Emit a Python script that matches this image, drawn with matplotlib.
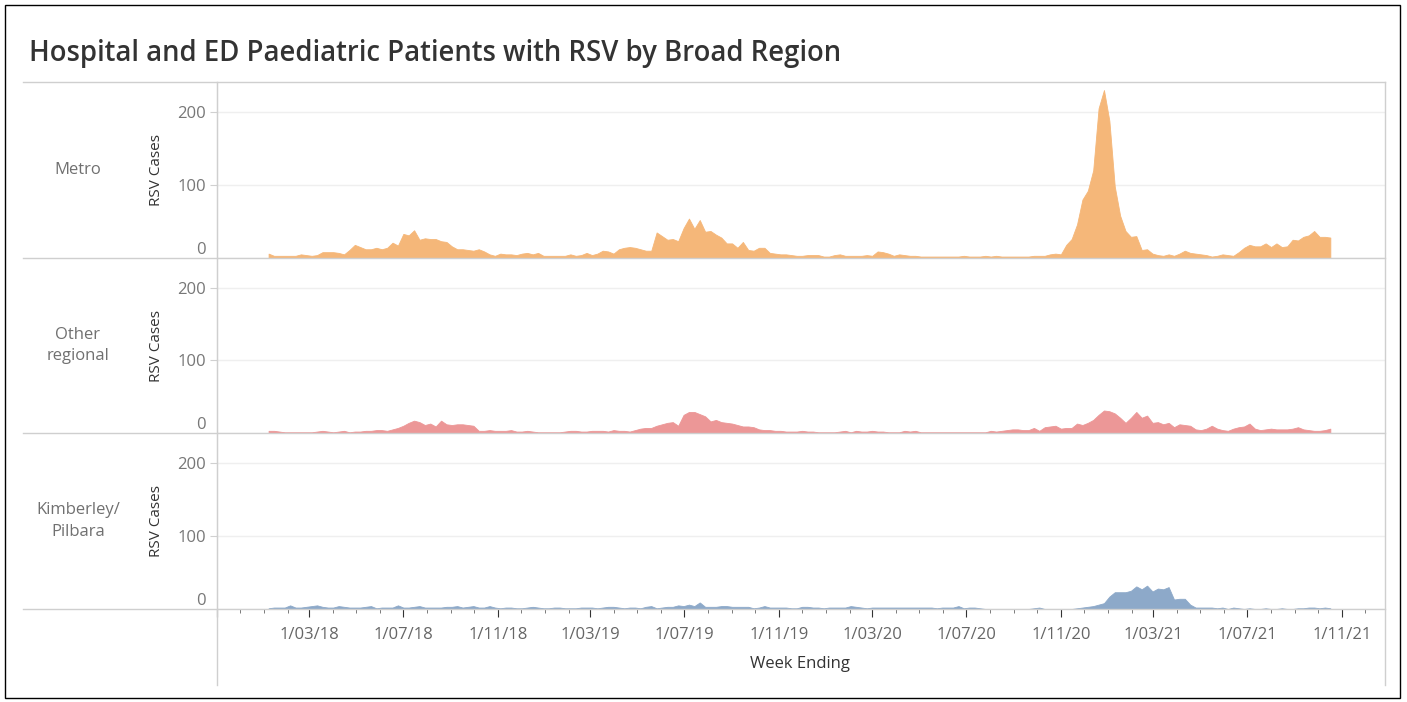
import numpy as np
import pandas as pd
import matplotlib
matplotlib.use("Agg")
import matplotlib.pyplot as plt
import matplotlib.dates as mdates
from matplotlib.lines import Line2D
from matplotlib.patches import Rectangle
from matplotlib.ticker import FuncFormatter

plt.rcParams['font.family'] = ['Open Sans', 'DejaVu Sans']

# weekly RSV cases, week ending Sunday
weeks = pd.date_range('2018-01-07', periods=198, freq='7D')
regions = ['Metro', 'Other\nregional', 'Kimberley/\nPilbara']

metro = [6, 3, 3, 3, 3, 3, 5, 4, 3, 4, 8, 8, 8, 7, 5, 11, 18, 15, 12, 12,
         14, 12, 14, 21, 17, 33, 31, 38, 25, 27, 26, 26, 23, 22, 16, 12, 12, 11, 10, 12,
         9, 5, 3, 6, 5, 5, 4, 6, 7, 5, 7, 3, 3, 3, 3, 3, 5, 3, 4, 7,
         4, 6, 10, 9, 6, 12, 14, 15, 14, 12, 10, 10, 35, 30, 25, 26, 23, 41, 54, 40,
         52, 36, 37, 32, 28, 20, 20, 14, 22, 11, 10, 14, 14, 7, 6, 5, 5, 4, 3, 3,
         4, 4, 4, 2, 2, 4, 5, 3, 3, 3, 3, 4, 3, 9, 8, 6, 3, 5, 4, 3,
         3, 2, 2, 2, 2, 2, 2, 2, 2, 3, 2, 2, 2, 3, 2, 3, 2, 2, 2, 2,
         2, 2, 3, 3, 3, 5, 6, 5, 18, 26, 46, 80, 92, 120, 205, 230, 188, 98, 58, 37,
         29, 30, 11, 12, 6, 4, 3, 5, 3, 6, 10, 7, 6, 5, 4, 2, 3, 5, 4, 3,
         8, 14, 18, 16, 16, 20, 15, 20, 15, 16, 25, 24, 29, 31, 37, 29, 29, 28]

other = [3, 3, 2, 1, 1, 1, 1, 1, 1, 2, 3, 2, 1, 2, 3, 1, 2, 2, 3, 3,
         4, 4, 3, 5, 7, 10, 14, 17, 15, 11, 13, 9, 17, 12, 11, 12, 12, 11, 10, 3,
         3, 4, 3, 3, 3, 4, 2, 2, 3, 2, 1, 1, 1, 1, 1, 2, 3, 3, 2, 2,
         3, 3, 3, 2, 4, 3, 3, 2, 4, 6, 7, 7, 10, 12, 14, 15, 10, 25, 29, 29,
         26, 23, 16, 18, 15, 14, 13, 11, 9, 9, 8, 5, 4, 4, 3, 3, 2, 2, 2, 3,
         2, 2, 1, 1, 1, 1, 2, 3, 1, 3, 2, 2, 3, 2, 2, 1, 1, 1, 3, 2,
         3, 1, 1, 1, 1, 1, 1, 1, 1, 1, 1, 1, 1, 1, 3, 2, 3, 4, 5, 5,
         4, 4, 7, 3, 8, 9, 10, 6, 7, 7, 13, 11, 14, 18, 25, 31, 30, 27, 21, 14,
         21, 29, 21, 24, 14, 15, 12, 14, 8, 12, 11, 10, 5, 4, 6, 10, 6, 4, 3, 6,
         8, 9, 13, 6, 4, 5, 6, 5, 5, 5, 6, 8, 5, 4, 3, 3, 4, 6]

kimberley = [1, 2, 2, 2, 5, 2, 2, 3, 4, 5, 3, 2, 2, 4, 3, 2, 2, 2, 3, 4,
             1, 2, 2, 2, 5, 2, 2, 3, 4, 2, 2, 2, 2, 3, 3, 4, 2, 3, 4, 2,
             2, 4, 2, 1, 2, 2, 1, 1, 2, 3, 2, 1, 1, 2, 2, 1, 1, 1, 2, 2,
             2, 1, 2, 3, 3, 2, 1, 2, 2, 1, 3, 4, 1, 2, 3, 3, 5, 4, 6, 4,
             9, 3, 3, 3, 4, 4, 3, 3, 3, 3, 1, 2, 4, 2, 2, 2, 2, 1, 1, 3,
             3, 2, 2, 1, 2, 2, 2, 2, 4, 3, 2, 1, 2, 2, 2, 2, 2, 2, 2, 2,
             2, 2, 2, 2, 1, 2, 2, 2, 4, 1, 2, 2, 1, 0, 0, 0, 0, 0, 0, 0,
             0, 0, 1, 2, 0, 0, 0, 0, 0, 0, 1, 2, 3, 4, 6, 8, 17, 23, 23, 23,
             25, 31, 27, 32, 24, 28, 27, 30, 13, 14, 14, 6, 2, 2, 2, 2, 1, 2, 0, 2,
             1, 0, 1, 0, 0, 1, 0, 0, 1, 0, 0, 1, 1, 2, 2, 1, 2, 1]

colors = ['#F5B779', '#EC9797', '#8DA9C9']

W, H = 1407, 702
fig = plt.figure(figsize=(W / 100, H / 100), dpi=100)


def fx(px):
    return px / W


def fy(py):
    return 1 - py / H


left, right = 217, 1385
bounds = [82, 258, 433, 609]
xmin, xmax = pd.Timestamp('2017-11-01'), pd.Timestamp('2021-12-27')


def date_label(x, pos):
    d = mdates.num2date(x)
    if d.year == 2017:
        return ''
    return f"{d.day}/{d.month:02d}/{d.year % 100:02d}"


for k, (name, vals, col) in enumerate(zip(regions, [metro, other, kimberley], colors)):
    top, bot = bounds[k], bounds[k + 1]
    ax = fig.add_axes([fx(left), fy(bot), fx(right - left), (bot - top) / H])
    ax.fill_between(weeks, vals, 0, facecolor=col, edgecolor=col, lw=0.6)
    ax.set_xlim(xmin, xmax)
    ax.set_ylim(0, 241)
    ax.set_yticks([0, 100, 200])
    ax.grid(axis='y', color='#efefef', lw=1)
    ax.set_axisbelow(True)
    for s in ['top', 'right', 'bottom']:
        ax.spines[s].set_visible(False)
    ax.spines['left'].set_color('#cccccc')
    ax.tick_params(axis='y', colors='#d0d0d0', labelcolor='#777777',
                   labelsize=12, length=5, pad=3)
    ax.yaxis.get_major_ticks()[0].label1.set_va('bottom')
    ax.yaxis.get_major_ticks()[0].tick1line.set_visible(False)

    if k < 2:
        ax.tick_params(axis='x', bottom=False, labelbottom=False, which='both')
    else:
        ax.xaxis.set_major_locator(mdates.MonthLocator(bymonth=[3, 7, 11]))
        ax.xaxis.set_minor_locator(mdates.MonthLocator())
        ax.xaxis.set_major_formatter(FuncFormatter(date_label))
        ax.tick_params(axis='x', which='major', colors='#333333', labelcolor='#666666',
                       labelsize=12, length=6, pad=7)
        ax.tick_params(axis='x', which='minor', colors='#666666', length=3)

    mid = (top + bot) / 2
    fig.text(fx(78), fy(mid), name, ha='center', va='center', fontsize=12,
             color='#707070', linespacing=1.45)
    fig.text(fx(156), fy(mid), 'RSV Cases', ha='center', va='center', rotation=90,
             fontsize=11, color='#333333')

# divider and frame lines
for b in bounds:
    fig.add_artist(Line2D([fx(23), fx(right)], [fy(b), fy(b)], color='#cfcfcf', lw=1,
                          transform=fig.transFigure))
for xv in [left, right]:
    fig.add_artist(Line2D([fx(xv), fx(xv)], [fy(82), fy(685)], color='#cfcfcf', lw=1,
                          transform=fig.transFigure))

fig.text(fx(800), fy(664), 'Week Ending', ha='center', va='center', fontsize=12,
         color='#333333')
fig.text(fx(29), fy(53), 'Hospital and ED Paediatric Patients with RSV by Broad Region',
         ha='left', va='center', fontsize=19.8, fontweight='semibold', color='#333333')

fig.patches.append(Rectangle((fx(5), fy(698)), fx(1395), (698 - 5) / H, fill=False,
                             edgecolor='black', lw=1, transform=fig.transFigure))

fig.savefig('out.png', dpi=100)
